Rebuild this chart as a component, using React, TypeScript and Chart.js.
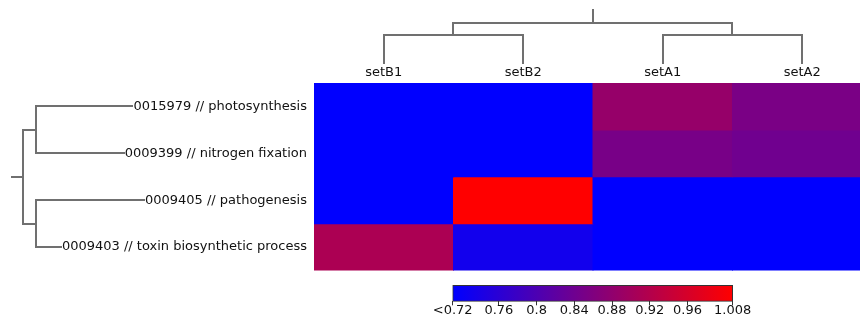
import React, { useEffect, useRef } from 'react';
import { Chart, registerables } from 'chart.js';

Chart.register(...registerables);

const FONT = '"DejaVu Sans", Verdana, sans-serif';

// ---- data ----
const columns = ['setB1', 'setB2', 'setA1', 'setA2'];
const rowLabels = [
  '0015979 // photosynthesis',
  '0009399 // nitrogen fixation',
  '0009405 // pathogenesis',
  '0009403 // toxin biosynthetic process',
];
const photosynthesis = [0.7, 0.7, 0.886, 0.853];
const nitrogenFixation = [0.7, 0.7, 0.851, 0.841];
const pathogenesis = [0.7, 1.008, 0.7, 0.7];
const toxinBiosynthesis = [0.911, 0.732, 0.7, 0.7];
const rowValues = [photosynthesis, nitrogenFixation, pathogenesis, toxinBiosynthesis];

const colorMin = 0.711;
const colorMax = 1.008;
const colorTicks = [0.711, 0.76, 0.8, 0.84, 0.88, 0.92, 0.96, 1.008];
const colorTickLabels = ['<0.72', '0.76', '0.8', '0.84', '0.88', '0.92', '0.96', '1.008'];

// dendrograms (hclust style: negative = leaf, positive = earlier merge)
const colMerge = [[-1, -2], [-3, -4], [1, 2]];
const colMergeHeight = [1.0, 1.0, 1.42];
const rowMerge = [[-1, -2], [-3, -4], [1, 2]];
const rowMergeHeight = [1.0, 1.0, 2.0];

function colorFor(v: number): string {
  let t = (v - colorMin) / (colorMax - colorMin);
  t = Math.max(0, Math.min(1, t));
  return `rgb(${Math.round(255 * t)},0,${Math.round(255 * (1 - t))})`;
}

type Orient = 'top' | 'left';

function drawTree(
  ctx: CanvasRenderingContext2D,
  merges: number[][],
  heights: number[],
  leafPos: number[],
  leafH: number[],
  toPix: (h: number) => number,
  orient: Orient,
  stubLen: number
) {
  const nodePos: number[] = [];
  const nodeH: number[] = [];
  const seg = (p1: number, h1: number, p2: number, h2: number) => {
    ctx.beginPath();
    if (orient === 'top') {
      ctx.moveTo(Math.round(p1), Math.round(h1));
      ctx.lineTo(Math.round(p2), Math.round(h2));
    } else {
      ctx.moveTo(Math.round(h1), Math.round(p1));
      ctx.lineTo(Math.round(h2), Math.round(p2));
    }
    ctx.stroke();
  };
  const get = (id: number): [number, number] =>
    id < 0 ? [leafPos[-id - 1], leafH[-id - 1]] : [nodePos[id - 1], nodeH[id - 1]];
  merges.forEach(([a, b], i) => {
    const [pa, ha] = get(a);
    const [pb, hb] = get(b);
    const hm = toPix(heights[i]);
    seg(pa, ha, pa, hm);
    seg(pb, hb, pb, hm);
    seg(pa, hm, pb, hm);
    nodePos[i] = (pa + pb) / 2;
    nodeH[i] = hm;
  });
  const last = merges.length - 1;
  seg(nodePos[last], nodeH[last], nodePos[last], nodeH[last] - stubLen);
}

const dendroPlugin = {
  id: 'dendro',
  afterDraw(chart: any) {
    const ctx: CanvasRenderingContext2D = chart.ctx;
    const xs = chart.scales.x;
    const ys = chart.scales.y;
    ctx.save();
    ctx.font = `13px ${FONT}`;
    ctx.fillStyle = '#111111';

    // column labels
    ctx.textAlign = 'center';
    ctx.textBaseline = 'alphabetic';
    const colX = columns.map((_, i) => xs.getPixelForValue(i + 0.5));
    columns.forEach((c, i) => ctx.fillText(c, colX[i], 76));

    // row labels
    ctx.textAlign = 'right';
    ctx.textBaseline = 'middle';
    const labelRight = xs.left - 7;
    const rowY = rowLabels.map((_, i) => ys.getPixelForValue(i + 0.5));
    const rowStart = rowLabels.map((l) => labelRight - ctx.measureText(l).width - 1);
    rowLabels.forEach((l, i) => ctx.fillText(l, labelRight, rowY[i]));

    ctx.strokeStyle = '#707070';
    ctx.lineWidth = 2;
    ctx.lineCap = 'square';

    // top dendrogram
    const colBase = 63;
    drawTree(
      ctx,
      colMerge,
      colMergeHeight,
      colX,
      columns.map(() => colBase),
      (h) => colBase - h * 28.5,
      'top',
      12.5
    );

    // left dendrogram
    drawTree(
      ctx,
      rowMerge,
      rowMergeHeight,
      rowY,
      rowStart,
      (h) => 48 - h * 12.3,
      'left',
      11.7
    );
    ctx.restore();
  },
};

export default function App() {
  const mainRef = useRef<HTMLCanvasElement>(null);
  const cbRef = useRef<HTMLCanvasElement>(null);

  useEffect(() => {
    Chart.defaults.font.family = FONT;
    const datasets = rowValues.map((vals, r) => ({
      label: rowLabels[r],
      data: vals.map((_, c) => ({ x: c + 0.5, y: [r, r + 1] })),
      backgroundColor: vals.map(colorFor),
      borderWidth: 0,
      inflateAmount: 0.5,
      barPercentage: 1,
      categoryPercentage: 1,
      grouped: false,
    }));

    const main = new Chart(mainRef.current as HTMLCanvasElement, {
      type: 'bar',
      data: { datasets: datasets as any },
      options: {
        animation: false,
        responsive: false,
        events: [],
        layout: { padding: { left: 314, top: 83, right: 0, bottom: 49.5 } },
        scales: {
          x: {
            type: 'linear',
            min: 0,
            max: 3.914,
            offset: false,
            display: false,
            afterBuildTicks: (s: any) => {
              s.ticks = columns.map((_, i) => ({ value: i + 0.5 }));
            },
          },
          y: { type: 'linear', min: 0, max: 4, reverse: true, display: false, offset: false },
        },
        plugins: { legend: { display: false }, tooltip: { enabled: false } },
      } as any,
      plugins: [dendroPlugin],
    });

    const cb = new Chart(cbRef.current as HTMLCanvasElement, {
      type: 'bar',
      data: {
        labels: ['scale'],
        datasets: [
          {
            data: [[colorMin, colorMax]] as any,
            backgroundColor: (c: any) => {
              const area = c.chart.chartArea;
              if (!area) return 'blue';
              const g = c.chart.ctx.createLinearGradient(area.left, 0, area.right, 0);
              g.addColorStop(0, colorFor(colorMin));
              g.addColorStop(1, colorFor(colorMax));
              return g;
            },
            borderColor: '#333333',
            borderWidth: 1,
            borderSkipped: false,
            barPercentage: 1,
            categoryPercentage: 1,
            clip: false,
          } as any,
        ],
      },
      options: {
        indexAxis: 'y',
        animation: false,
        responsive: false,
        events: [],
        layout: { padding: { left: 32.7, right: 27.3, top: 5.3, bottom: 3.1 } },
        scales: {
          x: {
            type: 'linear',
            min: colorMin,
            max: colorMax,
            offset: false,
            afterBuildTicks: (s: any) => {
              s.ticks = colorTicks.map((v) => ({ value: v }));
            },
            ticks: {
              autoSkip: false,
              maxRotation: 0,
              padding: -2,
              color: '#111111',
              font: { size: 13, family: FONT },
              callback: (_v: any, i: number) => colorTickLabels[i],
            },
            grid: { drawOnChartArea: false, tickLength: 4, color: '#333333' },
            border: { display: false },
          },
          y: { display: false },
        },
        plugins: { legend: { display: false }, tooltip: { enabled: false } },
      } as any,
    });

    return () => {
      main.destroy();
      cb.destroy();
    };
  }, []);

  return (
    <div style={{ position: 'fixed', left: 0, top: 0, width: 860, height: 320, background: '#fff' }}>
      <canvas ref={mainRef} width={860} height={320} style={{ position: 'absolute', left: 0, top: 0 }} />
      <canvas ref={cbRef} width={340} height={40} style={{ position: 'absolute', left: 420, top: 280 }} />
    </div>
  );
}
